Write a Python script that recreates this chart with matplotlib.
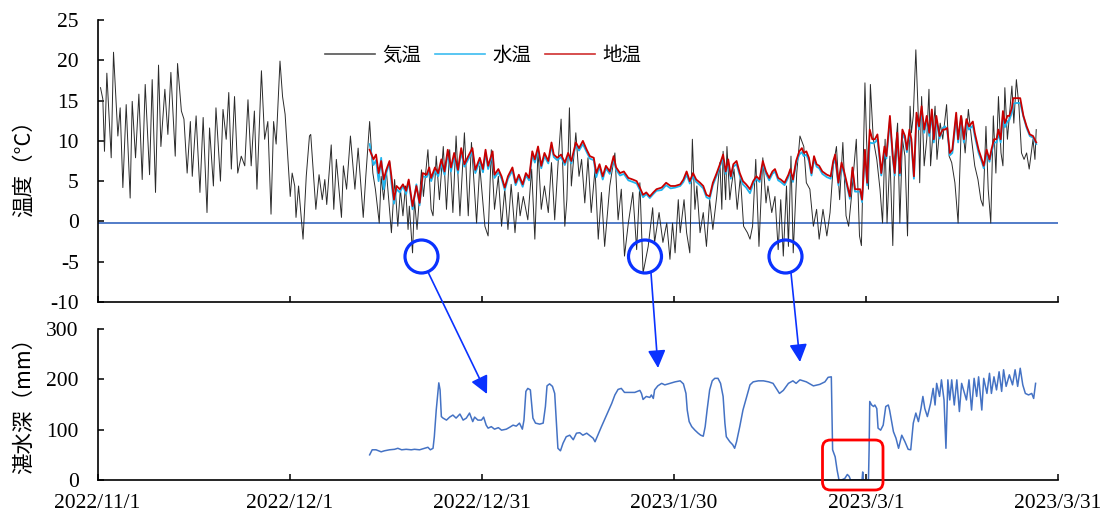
import datetime as dt
import numpy as np
import matplotlib
matplotlib.use("Agg")
import matplotlib.pyplot as plt
from matplotlib.lines import Line2D
from matplotlib.patches import Circle, FancyBboxPatch

# ---------------- data (days after 2022-11-01) -------------
air_day = [
    0.47, 0.83, 1.09, 1.46, 2.14, 2.5, 3.18, 3.54, 3.96, 4.48,
    5.10, 5.42, 5.94, 6.46, 6.98, 7.45, 8.13, 8.54, 9.06, 9.53,
    9.9, 10.52, 10.99, 11.46, 12.14, 12.5, 13.1, 13.5, 14.0, 14.5,
    14.8, 15.4, 16.0, 16.5, 17.1, 17.5, 18.1, 18.5, 19.2, 19.6,
    20.1, 20.5, 20.9, 21.4, 21.9, 22.45, 23.0, 23.5, 24.0, 24.5,
    24.9, 25.6, 26.1, 26.6, 27.1, 27.5, 27.9, 28.5, 28.9, 29.3,
    30.1, 30.4, 30.8, 31.0, 31.4, 32.1, 32.6, 33.1, 33.3, 34.1,
    34.6, 35.1, 35.5, 35.8, 36.5, 36.9, 37.3, 38.1, 38.4, 38.9,
    39.5, 40.2, 40.7, 41.5, 41.9, 42.5, 43.0, 43.4, 44.0, 44.3,
    44.7, 45.1, 45.9, 46.4, 46.9, 47.3, 47.7, 48.1, 48.5, 48.7,
    49.2, 49.5, 49.9, 50.6, 50.9, 51.6, 52.1, 52.4, 52.9, 53.4,
    54.0, 54.5, 55.0, 55.5, 56.0, 56.6, 57.3, 57.9, 58.4, 59.2,
    59.7, 60.5, 61.0, 61.5, 62.0, 62.6, 63.1, 63.6, 64.1, 64.6,
    65.2, 65.7, 66.0, 66.5, 67.2, 67.8, 68.3, 68.8, 69.3, 69.8,
    70.4, 70.9, 71.4, 71.9, 72.4, 72.98, 73.3, 73.7, 74.0, 74.7,
    75.2, 75.6, 76.1, 76.6, 77.1, 77.7, 78.2, 78.7, 79.2, 80.0,
    80.8, 81.3, 81.8, 82.3, 82.9, 83.6, 84.2, 84.7, 85.2, 86.0,
    86.7, 87.0, 87.7, 88.3, 88.9, 89.4, 89.8, 90.2, 90.7, 91.0,
    91.6, 92.0, 92.5, 92.9, 93.3, 93.6, 94.1, 94.6, 95.1, 95.6,
    96.1, 96.7, 97.2, 97.5, 97.7, 98.1, 98.3, 98.75, 99.0, 99.4,
    99.9, 100.4, 100.9, 101.5, 101.9, 102.3, 102.8, 103.3, 103.9, 104.4,
    104.7, 105.3, 105.8, 106.3, 106.7, 107.1, 107.6, 107.9, 108.3, 108.65,
    109.2, 109.7, 110.3, 110.7, 111.25, 111.8, 112.3, 112.7, 113.3, 113.9,
    114.4, 114.9, 115.4, 115.9, 116.4, 116.9, 117.3, 117.7, 118.5, 119.0,
    119.3, 119.85, 120.1, 120.4, 120.7, 121.15, 121.7, 122.2, 122.6, 123.0,
    123.3, 123.75, 124.2, 124.5, 124.95, 125.3, 125.7, 126.1, 126.5, 126.9,
    127.1, 127.4, 127.8, 128.2, 128.4, 128.7, 129.1, 129.5, 129.85, 130.1,
    130.4, 130.8, 131.1, 131.6, 132.0, 132.6, 133.0, 133.4, 133.9, 134.4,
    134.95, 135.5, 136.0, 136.5, 137.0, 137.5, 137.95, 138.3, 138.75, 139.1,
    139.5, 139.9, 140.3, 140.7, 141.1, 141.4, 141.7, 142.1, 142.4, 142.8,
    143.1, 143.5, 143.9, 144.3, 144.7, 145.1, 145.5, 145.9, 146.1, 146.4,
    146.6,
]
air_temp = [
    16.6, 15.2, 8.7, 18.4, 7.9, 21.0, 10.6, 14.1, 4.2, 14.5,
    2.9, 14.9, 7.9, 15.8, 5.2, 17.0, 5.8, 17.6, 3.6, 19.4,
    9.3, 16.4, 10.8, 18.5, 8.1, 19.6, 13.7, 12.7, 6.0, 12.4,
    5.6, 13.1, 3.6, 12.9, 1.1, 11.6, 4.4, 14.1, 5.0, 13.9,
    10.2, 16.0, 6.5, 15.5, 6.0, 8.1, 6.9, 15.1, 6.9, 13.7,
    4.0, 18.7, 10.2, 12.4, 0.9, 12.4, 9.6, 19.9, 15.5, 13.3,
    3.1, 6.0, 4.4, 0.5, 4.4, -2.2, 5.6, 10.6, 10.8, 1.5,
    5.8, 2.7, 5.2, 2.1, 9.5, 1.5, 7.7, 0.5, 6.9, 4.0,
    10.6, 4.0, 9.1, 0.5, 5.6, 12.4, 6.0, 4.0, -0.2, 5.6,
    2.7, 6.4, -1.4, 5.2, -0.6, 4.0, 0.7, 4.4, -1.0, 1.9,
    -3.9, 2.7, -1.0, 6.4, 3.1, 8.9, 1.5, 0.7, 8.1, 2.7,
    9.3, 1.5, 8.9, 1.1, 10.6, 0.7, 11.0, 0.7, 9.8, -0.2,
    6.9, -0.6, -1.8, 8.9, 1.5, 5.6, -0.6, 4.0, -1.0, 4.6,
    -1.4, 3.6, 0.7, 3.1, 0.2, 6.5, -2.2, 8.9, 1.5, 4.4,
    1.1, 7.3, 0.2, 6.9, 12.7, -0.6, 2.7, 14.1, 4.4, 11.0,
    5.6, 7.7, 2.3, 7.9, 1.1, 6.5, -2.2, 3.6, -3.1, 4.4,
    8.5, 0.2, 4.0, -4.3, -0.2, 3.6, -3.5, 4.8, -6.4, -3.1,
    1.7, -2.6, 1.1, -2.6, -0.2, -4.7, -0.2, -3.9, 2.7, -1.4,
    2.7, -1.4, -3.9, 10.2, 1.5, 4.4, -1.4, 1.1, -3.1, 2.7,
    -1.0, 3.1, 7.3, 1.5, 8.7, 2.7, 9.3, 2.7, 4.4, 6.5,
    1.5, 5.6, -0.6, -1.4, -2.2, -0.6, 7.7, -3.1, 7.9, 2.3,
    4.4, 1.1, 3.1, -3.5, 2.7, -4.3, 4.4, -3.1, 8.1, -3.9,
    6.0, 10.6, 9.3, 4.8, 4.0, -0.6, 1.5, -2.2, 1.5, -1.8,
    1.1, 6.9, 9.3, 2.7, 9.8, 0.7, -0.6, 2.7, 10.2, -1.8,
    -3.0, 17.2, 10.2, 4.0, 17.0, 10.2, 7.7, 4.0, -0.2, 10.2,
    -0.2, 8.1, -3.0, 8.1, 12.2, -0.2, 10.2, 8.1, -1.8, 14.3,
    11.0, 13.1, 21.3, 12.7, 4.8, 15.5, 6.9, 10.2, 16.4, 6.9,
    10.2, 14.3, 7.7, 12.2, 10.2, 14.5, 8.1, 7.3, 4.8, -0.2,
    13.1, 8.5, 13.9, 10.2, 6.9, 5.2, 2.7, 1.9, 11.8, 4.0,
    -0.2, 13.1, 6.0, 15.5, 8.5, 6.9, 16.6, 10.2, 13.1, 16.8,
    12.2, 17.6, 14.3, 8.5, 7.7, 8.5, 6.5, 8.9, 10.2, 7.7,
    11.4,
]

soil_day = [
    42.5, 43.1, 43.5, 43.9, 44.3, 44.7, 45.1, 45.6, 45.9, 46.3,
    46.7, 47.2, 47.7, 48.2, 48.6, 49.2, 49.8, 50.3, 50.8, 51.4,
    51.8, 52.1, 52.7, 53.2, 53.7, 54.2, 54.7, 55.2, 55.7, 56.3,
    56.8, 57.3, 57.9, 58.55, 59.0, 59.7, 60.2, 60.6, 61.0, 61.7,
    62.0, 62.6, 63.1, 63.6, 64.1, 64.8, 65.3, 65.8, 66.4, 66.9,
    67.4, 67.9, 68.3, 68.8, 69.3, 69.8, 70.4, 70.9, 71.25, 71.8,
    72.4, 72.98, 73.5, 74.0, 74.7, 75.2, 75.8, 76.4, 76.9, 77.5,
    77.9, 78.4, 78.9, 79.4, 80.0, 80.6, 81.0, 81.6, 82.2, 82.9,
    83.6, 84.2, 84.7, 85.2, 85.7, 86.25, 86.8, 87.3, 88.1, 88.8,
    89.5, 90.2, 91.0, 91.5, 92.0, 92.5, 93.0, 93.5, 94.1, 94.6,
    95.1, 95.6, 96.1, 96.7, 97.2, 97.7, 98.1, 98.5, 98.9, 99.3,
    99.8, 100.3, 100.8, 101.3, 101.9, 102.4, 102.9, 103.4, 103.9, 104.4,
    104.9, 105.4, 105.8, 106.3, 106.7, 107.3, 107.9, 108.2, 108.6, 109.1,
    109.6, 110.0, 110.3, 110.7, 111.1, 111.5, 111.9, 112.3, 112.7, 113.2,
    113.9, 114.5, 114.9, 115.2, 115.7, 116.2, 116.6, 117.0, 117.5, 117.9,
    118.3, 119.1, 119.4, 119.85, 120.2, 120.6, 121.0, 121.4, 121.8, 122.2,
    122.4, 122.9, 123.2, 123.75, 124.2, 124.5, 124.9, 125.3, 125.7, 126.1,
    126.4, 126.8, 127.1, 127.5, 127.9, 128.3, 128.7, 129.1, 129.5, 129.9,
    130.3, 130.6, 131.0, 131.5, 132.0, 132.35, 132.7, 133.1, 133.5, 134.1,
    134.4, 134.85, 135.3, 135.7, 136.1, 136.7, 137.0, 137.6, 138.1, 138.4,
    138.85, 139.3, 139.6, 140.0, 140.4, 140.7, 141.05, 141.4, 141.7, 142.1,
    142.4, 142.8, 143.0, 143.5, 144.1, 144.6, 145.1, 145.6, 146.1, 146.6,
]
soil_temp = [
    8.9, 7.7, 8.3, 6.0, 7.5, 5.2, 6.4, 7.5, 5.6, 2.7,
    4.4, 4.0, 4.6, 3.8, 5.2, 1.9, 4.4, 2.3, 6.0, 5.8,
    6.7, 5.4, 6.7, 6.0, 7.7, 6.2, 8.9, 6.7, 8.5, 6.4,
    9.1, 7.1, 8.1, 9.1, 6.4, 7.9, 6.5, 8.9, 6.9, 8.7,
    5.8, 6.5, 5.6, 4.2, 5.6, 6.7, 4.8, 5.8, 4.6, 6.0,
    5.4, 8.7, 7.7, 9.3, 6.9, 8.5, 7.5, 9.8, 8.3, 7.9,
    8.3, 7.3, 8.5, 7.5, 9.8, 9.1, 10.0, 8.9, 8.1, 7.9,
    6.0, 7.1, 5.6, 6.9, 6.2, 8.1, 6.7, 6.0, 6.2, 5.4,
    5.2, 5.0, 4.2, 3.3, 3.6, 3.1, 3.6, 4.0, 4.2, 4.8,
    4.4, 4.4, 4.6, 5.2, 6.2, 5.0, 6.0, 5.2, 4.8, 4.4,
    3.3, 3.1, 4.8, 6.0, 7.1, 8.3, 6.2, 7.7, 5.6, 7.1,
    7.5, 6.0, 5.0, 4.6, 4.0, 5.0, 5.6, 5.2, 7.5, 6.2,
    5.4, 6.2, 6.5, 5.4, 5.2, 4.8, 5.8, 6.5, 5.2, 7.5,
    8.7, 9.1, 8.5, 8.7, 7.9, 6.0, 8.1, 7.1, 6.9, 6.2,
    5.8, 5.6, 7.5, 8.3, 4.8, 7.3, 6.2, 4.8, 3.1, 6.7,
    4.0, 4.0, 2.7, 8.9, 4.8, 11.4, 10.2, 10.2, 10.8, 7.7,
    6.0, 9.3, 8.1, 13.1, 8.1, 6.0, 11.0, 6.0, 11.4, 10.6,
    8.9, 11.4, 10.2, 5.6, 13.5, 11.8, 14.3, 11.4, 13.1, 11.0,
    13.9, 10.2, 13.1, 10.6, 11.4, 11.4, 11.6, 8.5, 8.9, 13.5,
    10.2, 13.1, 10.2, 12.7, 11.8, 12.4, 11.0, 8.9, 7.7, 6.9,
    8.9, 7.7, 8.9, 10.2, 10.2, 11.4, 10.2, 13.7, 12.2, 13.1,
    13.1, 14.1, 15.3, 15.3, 15.3, 13.1, 11.8, 10.8, 10.6, 9.8,
]
water_temp = [
    9.6, 7.0, 7.6, 5.0, 7.9, 4.0, 6.0, 7.3, 4.8, 2.2,
    4.0, 3.6, 4.4, 3.4, 5.0, 1.5, 4.6, 2.0, 5.6, 5.5,
    6.2, 5.0, 6.3, 5.6, 7.2, 5.8, 8.4, 6.2, 8.0, 6.0,
    8.6, 6.8, 7.7, 8.7, 6.0, 7.5, 6.1, 8.5, 6.5, 8.3,
    5.4, 6.1, 5.3, 3.9, 5.3, 6.3, 4.5, 5.5, 4.3, 5.7,
    5.1, 8.3, 7.3, 8.9, 6.6, 8.1, 7.2, 9.4, 8.0, 7.6,
    8.0, 7.0, 8.2, 7.2, 9.5, 8.8, 9.6, 8.6, 7.8, 7.6,
    5.5, 6.8, 5.2, 6.6, 5.9, 7.7, 6.4, 5.7, 5.9, 5.1,
    4.9, 4.7, 3.9, 3.0, 3.4, 2.9, 3.4, 3.8, 3.9, 4.5,
    4.1, 4.2, 4.4, 4.9, 5.8, 4.7, 5.6, 4.9, 4.5, 4.1,
    3.0, 2.8, 4.5, 5.7, 6.8, 7.9, 5.9, 7.3, 5.3, 6.8,
    7.1, 5.7, 4.6, 4.2, 3.5, 4.7, 5.3, 4.9, 7.1, 5.9,
    5.1, 5.9, 6.2, 5.1, 4.9, 4.5, 5.5, 6.2, 4.9, 7.2,
    8.3, 8.6, 8.1, 8.3, 7.5, 5.7, 7.7, 6.8, 6.6, 5.9,
    5.5, 5.3, 7.1, 7.9, 4.5, 6.9, 5.9, 4.5, 2.8, 6.3,
    3.7, 3.7, 2.4, 8.4, 4.5, 9.8, 9.7, 9.8, 10.2, 7.3,
    5.7, 8.8, 7.8, 12.5, 7.8, 5.7, 10.5, 5.7, 10.9, 10.2,
    8.6, 10.9, 9.8, 5.3, 12.9, 11.4, 13.7, 11.0, 12.6, 10.6,
    13.3, 9.8, 12.6, 10.3, 11.6, 11.8, 11.3, 8.2, 8.5, 12.9,
    9.8, 12.6, 9.8, 12.2, 11.4, 11.9, 10.6, 8.5, 7.4, 6.6,
    8.5, 7.4, 8.5, 9.8, 9.8, 10.9, 9.8, 13.1, 11.7, 12.4,
    12.6, 13.5, 14.6, 14.7, 14.7, 13.0, 11.6, 10.6, 10.4, 9.6,
]

depth_day = [
    42.5, 42.9, 43.5, 44.3, 44.8, 45.6, 46.4, 46.9, 47.5, 48.2,
    49.0, 49.5, 50.3, 51.1, 51.6, 51.98, 52.4, 52.6, 52.9, 53.3,
    53.5, 53.7, 53.96, 54.5, 55.0, 55.5, 56.0, 56.6, 57.1, 57.6,
    58.1, 58.6, 58.9, 59.4, 59.96, 60.3, 60.7, 61.0, 61.5, 62.0,
    62.6, 63.1, 63.85, 64.4, 64.9, 65.4, 65.9, 66.35, 66.6, 66.9,
    67.2, 67.6, 68.0, 68.4, 69.05, 69.6, 69.95, 70.2, 70.6, 71.05,
    71.4, 71.7, 71.9, 72.3, 72.7, 73.2, 73.75, 74.3, 74.8, 75.3,
    75.8, 76.4, 76.9, 77.4, 77.7, 78.7, 79.5, 80.3, 80.8, 81.3,
    81.8, 82.3, 83.1, 83.9, 84.7, 84.95, 85.2, 85.7, 86.25, 86.5,
    86.8, 87.0, 87.5, 88.1, 88.6, 89.4, 90.2, 91.0, 91.5, 91.9,
    92.1, 92.4, 92.8, 93.3, 93.8, 94.2, 94.6, 94.9, 95.2, 95.6,
    96.0, 96.4, 96.9, 97.3, 97.7, 97.98, 98.2, 98.75, 99.2, 99.5,
    99.8, 100.3, 100.8, 101.4, 101.9, 102.4, 103.2, 104.0, 104.8, 105.5,
    106.0, 106.5, 107.1, 107.9, 108.6, 109.1, 109.7, 110.7, 111.8, 112.8,
    113.6, 114.1, 114.6, 114.7, 114.8, 115.2, 115.5, 115.8, 116.2, 116.7,
    117.1, 117.4, 117.6, 118.3, 119.1, 119.4, 119.5, 119.6, 120.4, 120.5,
    120.6, 120.9, 121.2, 121.4, 121.7, 121.9, 122.3, 122.7, 123.1, 123.5,
    123.7, 124.3, 124.7, 125.1, 125.6, 126.1, 126.6, 127.0, 127.4, 127.8,
    128.2, 128.6, 128.9, 129.2, 129.6, 130.1, 130.5, 130.8, 131.05, 131.5,
    131.8, 132.2, 132.5, 132.8, 133.1, 133.4, 133.8, 134.2, 134.6, 134.95,
    135.4, 135.7, 136.1, 136.5, 136.9, 137.3, 137.6, 138.1, 138.4, 138.9,
    139.3, 139.6, 140.0, 140.4, 140.8, 141.2, 141.5, 141.9, 142.4, 142.9,
    143.3, 143.7, 144.1, 144.5, 144.9, 145.4, 145.9, 146.2, 146.5,
]
depth_mm = [
    50, 60, 60, 56, 58, 60, 61, 63, 60, 61,
    60, 61, 60, 63, 65, 60, 63, 86, 139, 193,
    179, 126, 123, 119, 125, 129, 123, 131, 119, 123,
    133, 116, 125, 119, 119, 125, 109, 103, 106, 101,
    104, 99, 101, 105, 109, 107, 113, 101, 119, 176,
    182, 179, 123, 113, 111, 113, 146, 187, 191, 186,
    172, 106, 63, 58, 73, 86, 89, 80, 93, 94,
    89, 93, 88, 83, 76, 106, 129, 152, 169, 180,
    182, 174, 174, 174, 178, 172, 160, 166, 164, 169,
    162, 179, 187, 192, 189, 192, 195, 197, 191, 172,
    139, 116, 106, 99, 93, 89, 87, 106, 139, 179,
    197, 202, 202, 192, 166, 113, 86, 76, 70, 63,
    76, 106, 139, 166, 189, 195, 197, 197, 195, 192,
    182, 172, 178, 192, 197, 192, 199, 195, 187, 190,
    195, 204, 205, 126, 60, 46, 20, 0, 0, 3,
    11, 7, 0, 0, 0, 0, 16, 0, 0, 60,
    156, 149, 146, 149, 142, 103, 99, 109, 146, 149,
    139, 96, 83, 63, 89, 76, 61, 60, 113, 133,
    116, 142, 166, 142, 126, 152, 182, 149, 192, 166,
    199, 159, 63, 199, 159, 199, 149, 199, 136, 192,
    172, 159, 199, 139, 202, 166, 205, 139, 202, 172,
    212, 172, 205, 179, 215, 176, 219, 186, 209, 189,
    219, 186, 222, 189, 172, 169, 172, 162, 192,
]

start_date = dt.datetime(2022, 11, 1)
end_date = dt.datetime(2023, 3, 31)
tick_dates = [dt.datetime(2022, 11, 1), dt.datetime(2022, 12, 1), dt.datetime(2022, 12, 31),
              dt.datetime(2023, 1, 30), dt.datetime(2023, 3, 1), dt.datetime(2023, 3, 31)]
tick_labels = ["2022/11/1", "2022/12/1", "2022/12/31", "2023/1/30", "2023/3/1", "2023/3/31"]
series_names = ["気温", "水温", "地温"]
temp_ticks = [-10, -5, 0, 5, 10, 15, 20, 25]
depth_ticks = [0, 100, 200, 300]
zero_line = -0.2


def to_dates(days):
    return [start_date + dt.timedelta(days=float(d)) for d in days]


def paired(a, b):
    n = min(len(a), len(b))
    return to_dates(a[:n]), b[:n]


# ---------------- figure ----------------
W, H = 1103, 513
SERIF = "Liberation Serif"
CJK = ["Noto Sans CJK JP", "DejaVu Sans"]

fig = plt.figure(figsize=(W / 100, H / 100), dpi=100)
ax1 = fig.add_axes([97.5 / W, 1 - 302 / H, (1058 - 97.5) / W, (302 - 20) / H])
ax2 = fig.add_axes([97.5 / W, 1 - 480 / H, (1058 - 97.5) / W, (480 - 329) / H])

C_AIR = "#2b2b2b"
C_WATER = "#1fb4ee"
C_SOIL = "#c80000"
C_DEPTH = "#4472c4"

ax1.axhline(zero_line, color=C_DEPTH, lw=1.3, zorder=1)
x, y = paired(air_day, air_temp)
ax1.plot(x, y, color=C_AIR, lw=0.7, zorder=2)
x, y = paired(soil_day, water_temp)
ax1.plot(x, y, color=C_WATER, lw=1.3, zorder=3)
x, y = paired(soil_day, soil_temp)
ax1.plot(x, y, color=C_SOIL, lw=1.3, zorder=4)

x, y = paired(depth_day, depth_mm)
ax2.plot(x, y, color=C_DEPTH, lw=1.1, zorder=2)

for ax in (ax1, ax2):
    ax.set_xlim(start_date, end_date)
    ax.set_xticks(tick_dates)
    for s in ("top", "right"):
        ax.spines[s].set_visible(False)
    for s in ("left", "bottom"):
        ax.spines[s].set_linewidth(1.2)
    ax.tick_params(direction="in", length=4, width=1.1, labelsize=15.5)
    ax.tick_params(axis="y", pad=13.5)
    ax.patch.set_alpha(0)

ax1.set_ylim(-10, 25)
ax1.set_yticks(temp_ticks)
ax1.set_yticklabels([str(v) for v in temp_ticks], family=SERIF)
ax1.set_xticklabels([])

ax2.set_ylim(0, 300)
ax2.set_yticks(depth_ticks)
ax2.set_yticklabels([str(v) for v in depth_ticks], family=SERIF)
ax2.set_xticklabels(tick_labels, family=SERIF)
ax2.tick_params(axis="x", pad=10)

fig.text(24 / W, 1 - 163 / H, "温度（°C）", rotation=90, ha="center", va="center",
         fontsize=15.5, family=CJK)
fig.text(24 / W, 1 - 400 / H, "湛水深（mm）", rotation=90, ha="center", va="center",
         fontsize=15.5, family=CJK)

handles = [Line2D([], [], color="#555555", lw=1.2),
           Line2D([], [], color="#3cbcf0", lw=1.2),
           Line2D([], [], color="#d03030", lw=1.2)]
fig.legend(handles, series_names, loc="center", bbox_to_anchor=(483.5 / W, 1 - 55 / H),
           ncol=3, frameon=False, prop={"family": CJK, "size": 14},
           handlelength=2.55, handletextpad=0.4, columnspacing=0.7)

# ---------------- annotations (figure pixel space) ----------------
ov = fig.add_axes([0, 0, 1, 1])
ov.set_xlim(0, W)
ov.set_ylim(H, 0)
ov.axis("off")
C_ANN = "#0a32ff"
for cx, cy in [(421.5, 256.5), (645, 256.5), (785.5, 256.5)]:
    ov.add_patch(Circle((cx, cy), 16.5, fill=False, ec=C_ANN, lw=2.3))
for (x0, y0), (x1, y1) in [((428, 272), (487, 394)), ((651, 273), (658, 368)),
                           ((791, 273), (800, 362))]:
    ov.annotate("", xy=(x1, y1), xytext=(x0, y0),
                arrowprops=dict(arrowstyle="-|>,head_length=0.4,head_width=0.2",
                                mutation_scale=27, color=C_ANN, lw=1.2,
                                shrinkA=0, shrinkB=0))
ov.add_patch(FancyBboxPatch((822.5, 440), 60.5, 50,
                            boxstyle="round,pad=0,rounding_size=8",
                            fill=False, ec="#ff0000", lw=2.0))

fig.savefig("out.png", dpi=100)
